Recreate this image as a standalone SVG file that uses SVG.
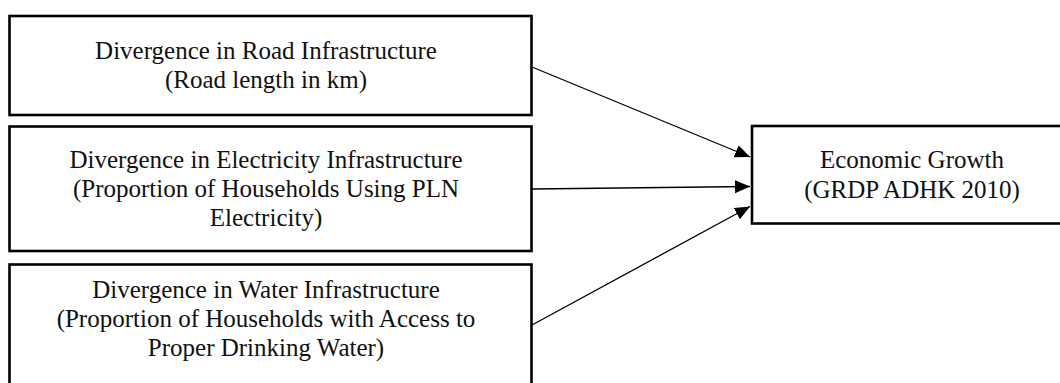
<svg xmlns="http://www.w3.org/2000/svg" width="1060" height="383" viewBox="0 0 1060 383">
  <style>
    .box { fill: #ffffff; stroke: #000000; stroke-width: 2.6; }
    .lbl { font-family: "Liberation Serif", "Times New Roman", serif; font-size: 25px; fill: #111111; text-anchor: middle; }
    .conn { stroke: #000000; stroke-width: 1.3; fill: none; marker-end: url(#arrow); }
  </style>
  <defs>
    <marker id="arrow" markerUnits="userSpaceOnUse" markerWidth="16" markerHeight="14" refX="15" refY="6.5" orient="auto">
      <path d="M0,0 L15,6.5 L0,13 Z" fill="#000000"/>
    </marker>
  </defs>
  <rect width="1060" height="383" fill="#ffffff"/>

  <g id="node-road">
    <rect class="box" x="9.5" y="16" width="522" height="99"/>
    <text class="lbl" x="266" y="59">Divergence in Road Infrastructure</text>
    <text class="lbl" x="266" y="88">(Road length in km)</text>
  </g>

  <g id="node-electricity">
    <rect class="box" x="9.5" y="126.5" width="522" height="124.5"/>
    <text class="lbl" x="266" y="168">Divergence in Electricity Infrastructure</text>
    <text class="lbl" x="266" y="197">(Proportion of Households Using PLN</text>
    <text class="lbl" x="266" y="226">Electricity)</text>
  </g>

  <g id="node-water">
    <rect class="box" x="9.5" y="264.5" width="522" height="140"/>
    <text class="lbl" x="266" y="298">Divergence in Water Infrastructure</text>
    <text class="lbl" x="266" y="327">(Proportion of Households with Access to</text>
    <text class="lbl" x="266" y="356">Proper Drinking Water)</text>
  </g>

  <g id="node-growth">
    <rect class="box" x="752" y="126" width="322" height="97.5"/>
    <text class="lbl" x="912" y="168">Economic Growth</text>
    <text class="lbl" x="912" y="198">(GRDP ADHK 2010)</text>
  </g>

  <g id="connectors">
    <line class="conn" x1="532" y1="67" x2="750" y2="157"/>
    <line class="conn" x1="532" y1="189" x2="750" y2="186.5"/>
    <line class="conn" x1="532" y1="325" x2="750" y2="206.5"/>
  </g>
</svg>
